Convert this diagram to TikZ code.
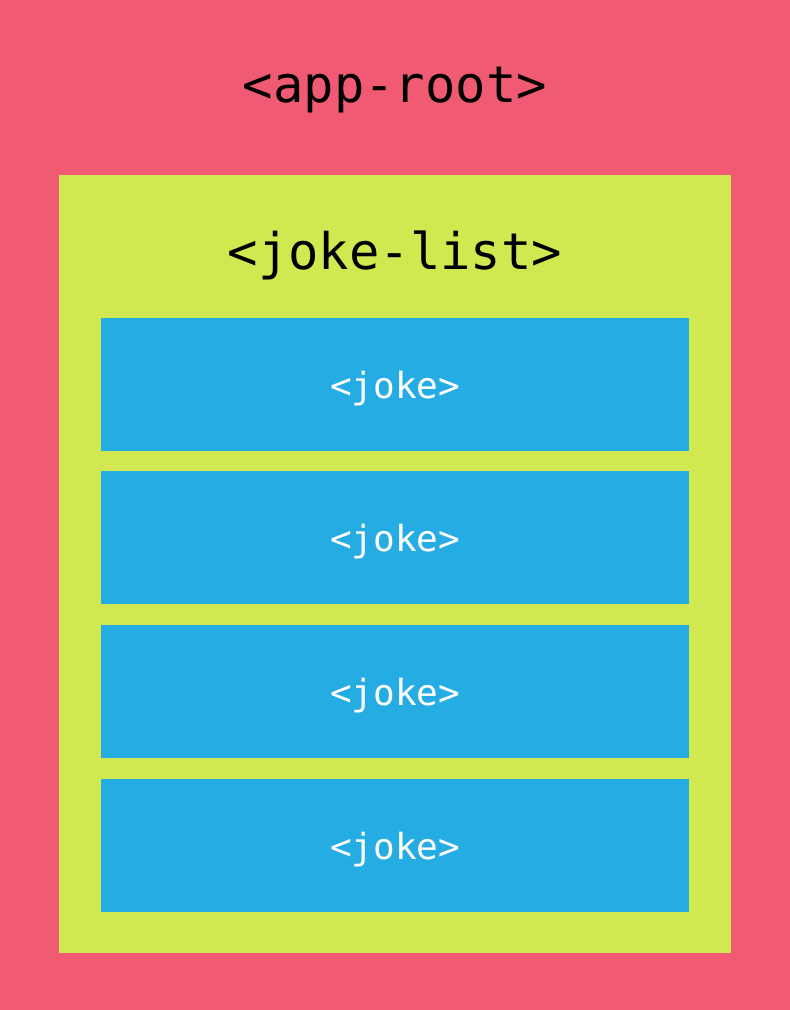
\documentclass[tikz,border=0pt]{standalone}
\usepackage{fontspec}
\setmonofont{DejaVu Sans Mono}
\definecolor{rootred}{HTML}{F05A72}
\definecolor{listgreen}{HTML}{D2E851}
\definecolor{jokeblue}{HTML}{25ACE3}
\begin{document}
\begin{tikzpicture}[x=1pt,y=-1pt,
  title/.style={font=\ttfamily\fontsize{50.5}{56}\selectfont, text=black, anchor=center, inner sep=0},
  jokebox/.style={fill=jokeblue, draw=none, minimum width=588pt, minimum height=133pt, inner sep=0,
     font=\ttfamily\fontsize{36}{42}\selectfont, text=white, anchor=north west, text depth=0pt}]
\fill[rootred] (0,0) rectangle (790,1010);
\useasboundingbox (0,0) rectangle (790,1010);
\node[title] (root) at (395,90) {<app-root>};
\fill[listgreen] (59,175) rectangle (731,953);
\node[title] (list) at (395,255) {<joke-list>};
\node[jokebox] (j1) at (101,318) {<joke>};
\node[jokebox] (j2) at (101,471) {<joke>};
\node[jokebox] (j3) at (101,625) {<joke>};
\node[jokebox] (j4) at (101,779) {<joke>};
\end{tikzpicture}
\end{document}
